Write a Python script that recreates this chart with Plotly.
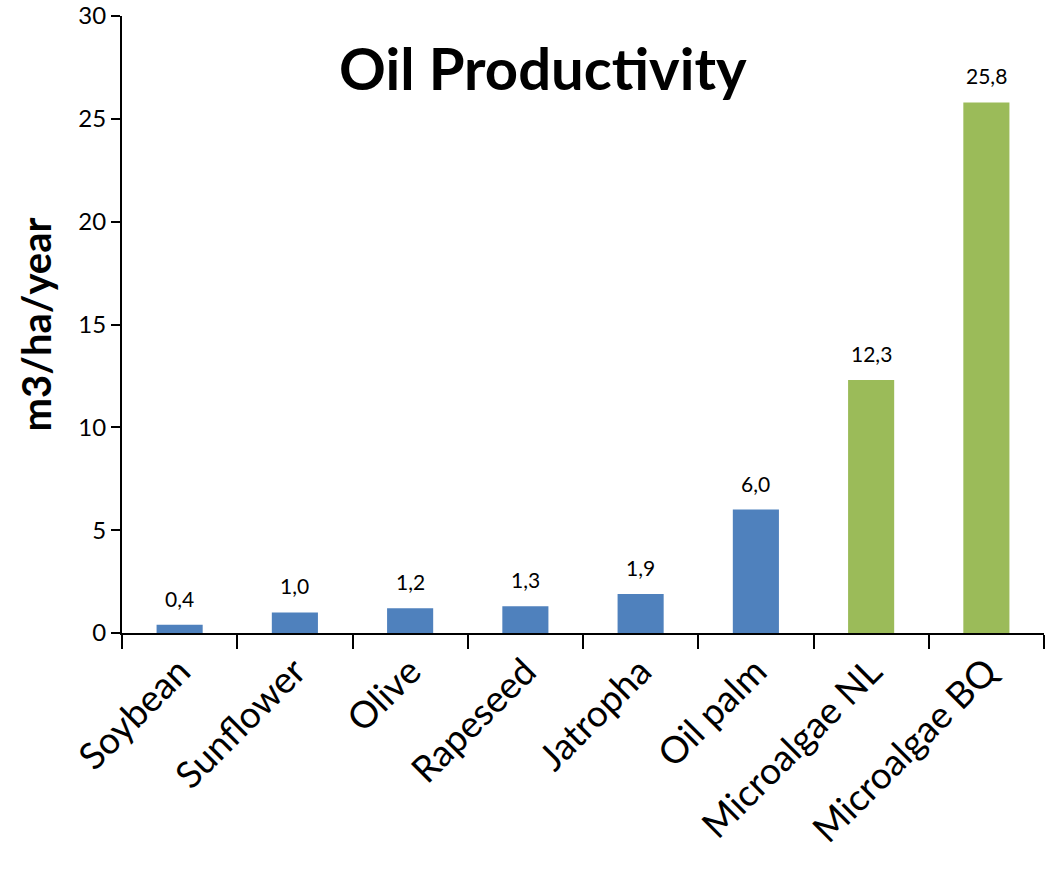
import plotly.graph_objects as go

categories = ["Soybean", "Sunflower", "Olive", "Rapeseed", "Jatropha", "Oil palm", "Microalgae NL", "Microalgae BQ"]
values = [0.4, 1.0, 1.2, 1.3, 1.9, 6.0, 12.3, 25.8]
colors = ["#4F81BD"] * 6 + ["#9BBB59"] * 2

FONT = "Lato, Open Sans, sans-serif"

fig = go.Figure(go.Bar(
    x=categories, y=values,
    marker=dict(color=colors, line=dict(width=0)),
))

annotations = [dict(
    x=c, y=v, xref="x", yref="y", text=f"{v:.1f}".replace(".", ","),
    showarrow=False, yanchor="bottom", yshift=12,
    font=dict(size=21, family=FONT, color="black"),
) for c, v in zip(categories, values)]

annotations.append(dict(
    text="<b>Oil Productivity</b>", x=0.4566, y=0.916, xref="paper", yref="paper",
    xanchor="center", yanchor="middle", showarrow=False,
    font=dict(size=58, family=FONT, color="black"),
))

fig.update_layout(
    width=1056, height=869,
    margin=dict(l=122, r=12, t=16, b=236, autoexpand=False),
    plot_bgcolor="white", paper_bgcolor="white",
    bargap=0.6,
    showlegend=False,
    font=dict(family=FONT, color="black"),
    xaxis=dict(
        automargin=False,
        showline=True, linecolor="black", linewidth=2,
        ticks="outside", tickson="boundaries", ticklen=14, tickwidth=2, tickcolor="black",
        tickangle=-45, tickfont=dict(size=37, family=FONT, color="black"),
        showgrid=False,
    ),
    yaxis=dict(
        automargin=False,
        range=[0, 30], dtick=5,
        showline=True, linecolor="black", linewidth=2,
        ticks="outside", ticklen=9, tickwidth=2, tickcolor="black",
        tickfont=dict(size=24, family=FONT, color="black"),
        showgrid=False, zeroline=False,
        title=dict(text="<b>m3/ha/year</b>", font=dict(size=40, family=FONT, color="black"), standoff=14),
    ),
    annotations=annotations,
)

fig.write_html("out.html")
